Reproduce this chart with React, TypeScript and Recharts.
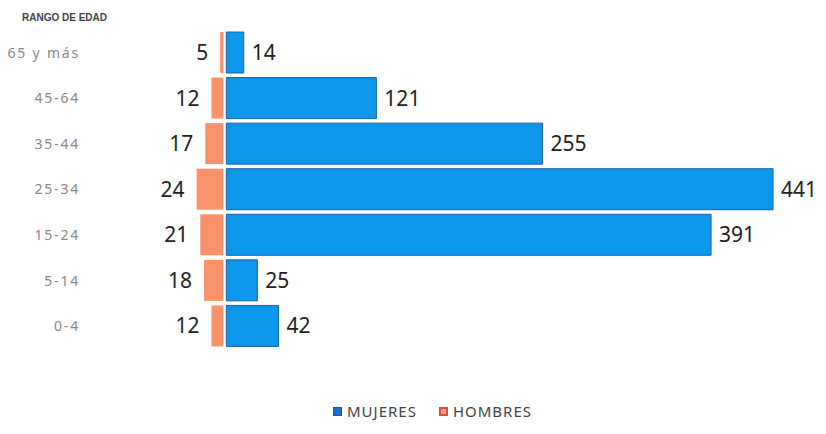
import React from "react";
import { BarChart, Bar, XAxis, YAxis, LabelList } from "recharts";

const ageGroups = ["65 y más", "45-64", "35-44", "25-34", "15-24", "5-14", "0-4"];
const mujeres = [14, 121, 255, 441, 391, 25, 42];
const hombres = [5, 12, 17, 24, 21, 18, 12];

const data = ageGroups.map((age, i) => ({
  age,
  mujeres: mujeres[i],
  hombres: -hombres[i],
}));

const BLUE = "#0c97ea";
const BLUE_EDGE = "#1b5fae";
const ORANGE = "#f7926a";

const MenShape = (props: any) => {
  const { x, y, width, height } = props;
  const left = Math.min(x, x + width);
  const w = Math.max(Math.abs(width) - 3, 0);
  return <rect x={left} y={y} width={w} height={height} fill={ORANGE} />;
};

const MenLabel = (props: any) => {
  const { x, y, width, height, value } = props;
  const left = Math.min(x, x + width);
  return (
    <text x={left - 12} y={y + height / 2} dy="0.36em" textAnchor="end" fontSize={21} fill="#222" fontFamily="Noto Sans">
      {Math.abs(value)}
    </text>
  );
};

const WomenLabel = (props: any) => {
  const { x, y, width, height, value } = props;
  return (
    <text x={x + width + 8} y={y + height / 2} dy="0.36em" textAnchor="start" fontSize={21} fill="#222" fontFamily="Noto Sans">
      {value}
    </text>
  );
};

export default function App() {
  return (
    <div style={{ position: "absolute", left: 0, top: 0, width: 826, height: 434, background: "#fff", fontFamily: "Noto Sans" }}>
      <div style={{ position: "absolute", left: 22, top: 12, fontSize: 10, fontWeight: 700, color: "#444", fontFamily: "Liberation Sans" }}>
        RANGO DE EDAD
      </div>
      <BarChart
        width={826}
        height={434}
        data={data}
        layout="vertical"
        stackOffset="sign"
        margin={{ top: 30, right: 17, bottom: 85, left: 0 }}
      >
        <XAxis type="number" domain={[-110, 470]} hide />
        <YAxis
          type="category"
          dataKey="age"
          width={90}
          axisLine={false}
          tickLine={false}
          tickMargin={4}
          tick={{ fontSize: 14, fill: "#888", letterSpacing: 1.8 }}
        />
        <Bar dataKey="hombres" stackId="a" barSize={41} fill={ORANGE} shape={<MenShape />} isAnimationActive={false}>
          <LabelList dataKey="hombres" content={<MenLabel />} />
        </Bar>
        <Bar dataKey="mujeres" stackId="a" barSize={41} fill={BLUE} stroke={BLUE_EDGE} strokeWidth={1} isAnimationActive={false}>
          <LabelList dataKey="mujeres" content={<WomenLabel />} />
        </Bar>
      </BarChart>
      <div style={{ position: "absolute", top: 401, left: 333, display: "flex", alignItems: "center", fontSize: 15, color: "#444", letterSpacing: 1 }}>
        <span style={{ display: "inline-block", width: 7, height: 7, background: "#1d6fd1", border: "1px solid #1656a8", marginRight: 5 }} />
        <span style={{ marginRight: 22 }}>MUJERES</span>
        <span style={{ display: "inline-block", width: 5, height: 5, background: "#f5a08e", border: "2px solid #e5483a", marginRight: 5 }} />
        <span>HOMBRES</span>
      </div>
    </div>
  );
}
